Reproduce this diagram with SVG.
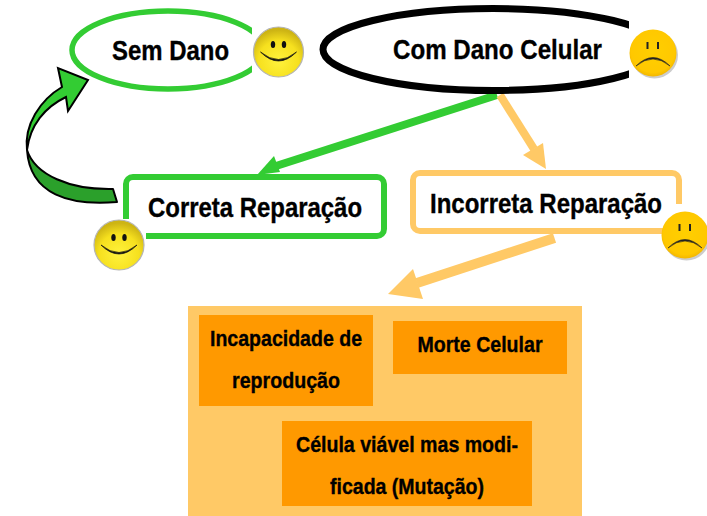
<svg xmlns="http://www.w3.org/2000/svg" width="707" height="516" viewBox="0 0 707 516">
<style>
text{font-family:"Liberation Sans",Arial,sans-serif;font-weight:bold;fill:#000;stroke:#000;stroke-width:.35;text-anchor:middle}
.big{font-size:27px}
.small{font-size:21.5px}
.box{fill:#ff9900}
</style>
<defs>
<radialGradient id="hap" cx="50%" cy="68%" r="62%"><stop offset="0" stop-color="#fff23c"/><stop offset=".65" stop-color="#f6e01e"/><stop offset="1" stop-color="#cdb414"/></radialGradient>
<radialGradient id="sad" cx="50%" cy="45%" r="58%"><stop offset="0" stop-color="#ffcf00"/><stop offset=".8" stop-color="#ffc800"/><stop offset="1" stop-color="#eeb000"/></radialGradient>
<g id="happy"><circle r="25" fill="url(#hap)" stroke="#b5b5b5" stroke-width="1.2"/><ellipse cx="-5.500" cy="-7.500" rx="2.200" ry="3.600" fill="#111"/><ellipse cx="5.500" cy="-7.500" rx="2.200" ry="3.600" fill="#111"/><path d="M-18 0Q0 18 18 0Q0 15-18 0Z" fill="#111" stroke="#111" stroke-width=".7" stroke-linejoin="round"/></g>
<g id="sadface"><circle cx="1.500" cy="2" r="23.500" fill="#aaa" opacity=".6"/><circle r="23.500" fill="url(#sad)"/><path d="M-5.500-11v7M5-11v7" stroke="#222" stroke-width="2" fill="none"/><path d="M-17 13Q0-4 17 13Q0-1-17 13Z" fill="#222" stroke="#222" stroke-width=".6" stroke-linejoin="round"/></g>
</defs>
<rect width="707" height="516" fill="#fff"/>
<g id="connectors">
<path d="M497 95 276 166" stroke="#33cc33" stroke-width="8" fill="none"/>
<path d="M257 175 274 156 280 172Z" fill="#33cc33"/>
<path d="M500 95 534 149" stroke="#ffc966" stroke-width="8" fill="none"/>
<path d="M546 169 523 155 543 143Z" fill="#ffc966"/>
<path d="M554.500 238 417 283" stroke="#ffc966" stroke-width="10" fill="none"/>
<path d="M388 294 413 269 423 299Z" fill="#ffc966"/>
<path d="M27 150C24 125 40 100 62 87L58 68 88 80 68 111 66 97C45 107 30 125 27 150Z" fill="#33cc33" stroke="#000" stroke-width="2" stroke-linejoin="miter"/>
<path d="M27 150C35 175 70 190 113 189L117 202C70 206 30 195 27 150Z" fill="#2ba02b" stroke="#000" stroke-width="2" stroke-linejoin="round"/>
</g>
<g id="sem-dano">
<ellipse cx="168" cy="50" rx="96" ry="39" fill="#fff" stroke="#33cc33" stroke-width="5.500"/>
<rect x="252" y="18" width="60" height="66" fill="#fff"/>
<text class="big" x="170.500" y="60" textLength="117" lengthAdjust="spacingAndGlyphs">Sem Dano</text>
<use href="#happy" x="278.500" y="52"/>
</g>
<g id="com-dano">
<ellipse cx="493" cy="49.500" rx="170" ry="41" fill="#fff" stroke="#000" stroke-width="7"/>
<rect x="629" y="20" width="50" height="60" fill="#fff"/>
<text class="big" x="497.500" y="59" textLength="209" lengthAdjust="spacingAndGlyphs">Com Dano Celular</text>
<use href="#sadface" x="653" y="53"/>
</g>
<g id="correta">
<rect x="126" y="177" width="258" height="59" rx="7" fill="#fff" stroke="#33cc33" stroke-width="6"/>
<text class="big" x="255" y="217" textLength="214" lengthAdjust="spacingAndGlyphs">Correta Reparação</text>
<rect x="92" y="219" width="54" height="54" fill="#fff"/>
<use href="#happy" x="119" y="245"/>
</g>
<g id="incorreta">
<rect x="413" y="173" width="266" height="58" rx="7" fill="#fff" stroke="#ffc966" stroke-width="6"/>
<rect x="664" y="204" width="43" height="60" fill="#fff"/>
<text class="big" x="546" y="213" textLength="232" lengthAdjust="spacingAndGlyphs">Incorreta Reparação</text>
<use href="#sadface" x="685" y="235"/>
</g>
<g id="panel"><rect x="188" y="306" width="394" height="210" fill="#ffc966"/></g>
<g id="incapacidade">
<rect class="box" x="199" y="315" width="174" height="91"/>
<text class="small" x="286" y="346" textLength="152" lengthAdjust="spacingAndGlyphs">Incapacidade de</text>
<text class="small" x="286" y="388" textLength="108" lengthAdjust="spacingAndGlyphs">reprodução</text>
</g>
<g id="morte">
<rect class="box" x="393" y="321" width="174" height="53"/>
<text class="small" x="480" y="352" textLength="125" lengthAdjust="spacingAndGlyphs">Morte Celular</text>
</g>
<g id="celula">
<rect class="box" x="282" y="421" width="250" height="85"/>
<text class="small" x="407" y="452" textLength="222" lengthAdjust="spacingAndGlyphs">Célula viável mas modi-</text>
<text class="small" x="407" y="494" textLength="154" lengthAdjust="spacingAndGlyphs">ficada (Mutação)</text>
</g>
</svg>
